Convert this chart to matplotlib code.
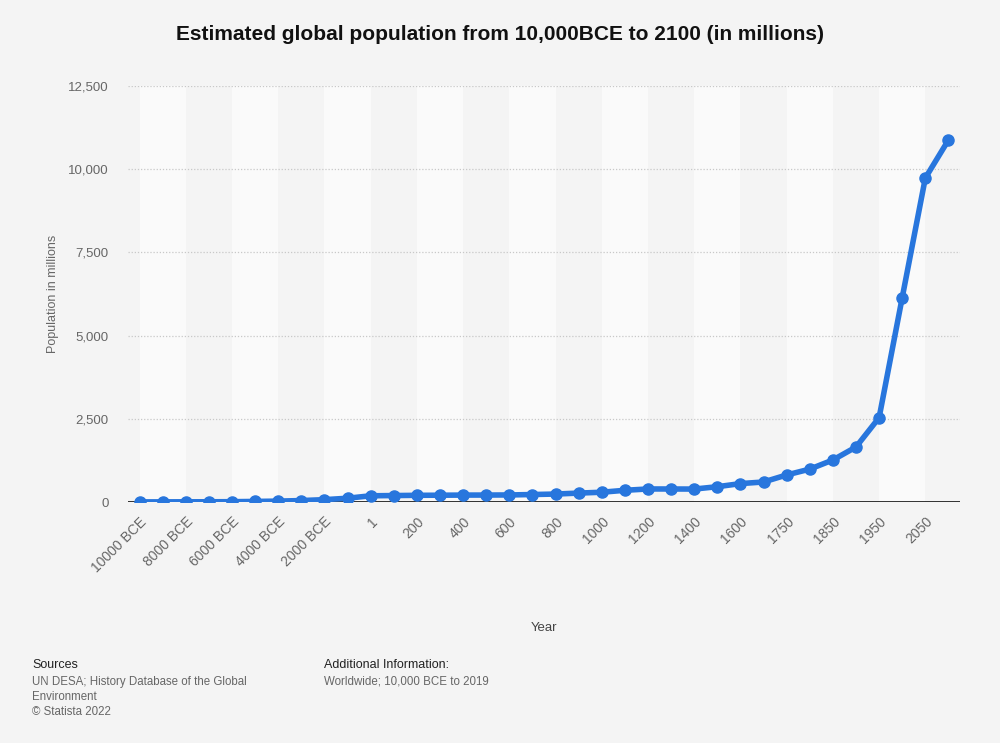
import matplotlib.pyplot as plt

plt.rcParams['font.family'] = ['Liberation Sans', 'DejaVu Sans']

# Data
years = ['10000 BCE', '9000 BCE', '8000 BCE', '7000 BCE', '6000 BCE', '5000 BCE',
         '4000 BCE', '3000 BCE', '2000 BCE', '1000 BCE', '1', '100', '200', '300',
         '400', '500', '600', '700', '800', '900', '1000', '1100', '1200', '1300',
         '1400', '1500', '1600', '1700', '1750', '1800', '1850', '1900', '1950',
         '2000', '2050', '2100']
population = [4.4, 5.5, 7, 8, 11, 18.5, 28, 45, 72, 115, 188, 195, 202, 205,
              209, 210, 213, 226, 240, 269, 295, 353, 393, 392, 390, 461, 554,
              603, 814, 989, 1263, 1654, 2536, 6143, 9735, 10875]
y_ticks = [0, 2500, 5000, 7500, 10000, 12500]

bg = '#f4f4f4'
line_color = '#2876dd'
text_gray = '#666666'

fig = plt.figure(figsize=(10, 7.43), dpi=100, facecolor=bg)
ax = fig.add_axes([0.128, 0.3243, 0.832, 0.56])
ax.set_facecolor(bg)

x = list(range(len(years)))

# alternating bands, two categories wide
for start in range(0, len(years) - 1, 4):
    ax.axvspan(start, start + 2, color='#fafafa', zorder=0, lw=0)

for yt in y_ticks[1:]:
    ax.axhline(yt, color='#c8c8c8', lw=0.9, ls=(0, (1, 1.5)), zorder=1)
ax.axhline(0, color='#222222', lw=1.3, zorder=2)

ax.plot(x, population, color=line_color, lw=4, marker='o', markersize=8,
        solid_capstyle='round', solid_joinstyle='round', zorder=3)

ax.set_xlim(-0.5, len(years) - 0.5)
ax.set_ylim(0, 12500)
ax.set_yticks(y_ticks)
ax.set_yticklabels([f'{v:,}' for v in y_ticks])
ax.set_xticks(x[::2])
ax.set_xticklabels(years[::2], rotation=45, ha='right', rotation_mode='anchor')

ax.tick_params(axis='both', length=0, colors=text_gray)
ax.tick_params(axis='y', pad=14, labelsize=9.5)
ax.tick_params(axis='x', pad=9, labelsize=10)
for s in ax.spines.values():
    s.set_visible(False)

fig.text(0.053, 0.3243 + 0.28, 'Population in millions', color=text_gray, fontsize=9,
         rotation=90, ha='center', va='center')
fig.text(0.544, 1 - 628 / 743, 'Year', color='#444444', fontsize=9.5,
         ha='center', va='center')

fig.text(0.5, 1 - 35 / 743, 'Estimated global population from 10,000BCE to 2100 (in millions)',
         fontsize=15, fontweight='bold', ha='center', va='center', color='#111111')

# footer
fig.text(0.032, 1 - 665 / 743, 'Sources', fontsize=9, color='#222222', va='center')
fig.text(0.032, 1 - 682 / 743, 'UN DESA; History Database of the Global', fontsize=8.3,
         color=text_gray, va='center')
fig.text(0.032, 1 - 697 / 743, 'Environment', fontsize=8.3, color=text_gray, va='center')
fig.text(0.032, 1 - 712 / 743, '© Statista 2022', fontsize=8.3, color=text_gray, va='center')
fig.text(0.324, 1 - 665 / 743, 'Additional Information:', fontsize=9, color='#222222',
         va='center')
fig.text(0.324, 1 - 682 / 743, 'Worldwide; 10,000 BCE to 2019', fontsize=8.3,
         color=text_gray, va='center')

fig.savefig('out.png', dpi=100, facecolor=bg)
